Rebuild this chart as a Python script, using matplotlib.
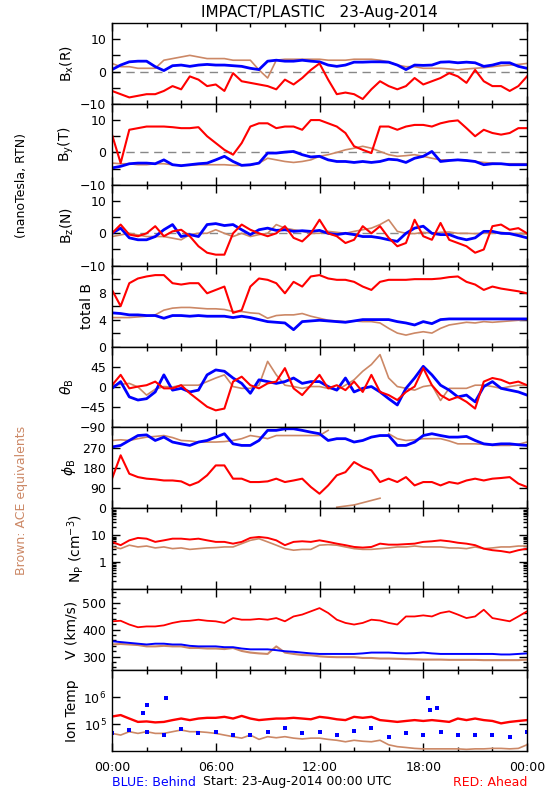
import matplotlib
matplotlib.use("Agg")
import matplotlib.pyplot as plt
import numpy as np
from matplotlib.ticker import MultipleLocator, NullLocator, FixedLocator

RED = "#ff0000"
BLUE = "#0000ff"
BROWN = "#cc8866"

# half-hour samples over the day (hours since 00:00 UTC)
hours = np.linspace(0, 24, 49)

bx_a = [-6.0, -7.0, -8.0, -7.5, -7.0, -7.0, -6.0, -4.5, -5.5, -1.5, -2.5, -4.5,
        -4.0, -6.0, -0.5, -3.0, -3.5, -4.0, -4.5, -5.5, -2.5, -4.0, -2.0, 0.5,
        2.5, -2.5, -7.0, -6.5, -7.0, -8.5, -5.5, -3.0, -4.5, -5.5, -4.5, -2.0,
        -4.0, -3.0, -2.0, -0.5, -1.5, -3.5, 0.5, -3.0, -4.5, -4.5, -6.0, -4.5,
        -1.5]
bx_b = [0.6, 2.0, 3.0, 3.2, 3.2, 1.5, 0.3, 1.8, 2.0, 1.6, 2.0, 2.2,
        2.0, 2.0, 1.8, 1.6, 1.0, 0.6, 3.2, 3.5, 3.2, 3.2, 3.5, 3.2,
        3.0, 2.0, 1.6, 2.0, 2.9, 2.9, 3.0, 3.0, 2.9, 2.0, 0.6, 2.0,
        1.9, 2.0, 2.9, 3.0, 2.7, 2.9, 2.7, 1.6, 2.0, 2.7, 2.7, 1.6,
        1.0]
bx_ace = [2.5, 1.5, 1.5, 1.0, 1.0, 1.0, 3.5, 4.0, 4.5, 5.0, 4.5, 4.0,
          4.0, 4.0, 3.5, 3.5, 3.5, 0.5, -2.0, 3.5, 3.8, 3.8, 3.8, 3.8,
          3.8, 3.5, 3.5, 3.5, 3.8, 3.8, 3.8, 3.5, 3.0, 2.0, 1.5, 1.5,
          1.0, 1.0, 1.0, 0.8, 0.5, 0.8, 1.0, 1.2, 1.5, 1.8, 2.0, 2.2,
          2.5]

by_a = [5.5, -3.3, 7.0, 7.5, 8.0, 8.0, 8.0, 7.8, 7.5, 7.5, 7.8, 5.0,
        2.9, 0.8, -0.7, 2.9, 8.0, 9.0, 9.0, 7.5, 8.0, 8.0, 7.0, 10.0,
        10.0, 9.0, 8.0, 6.0, 1.9, 0.8, -0.2, 8.0, 8.0, 7.0, 8.0, 8.5,
        8.5, 8.0, 9.0, 9.6, 9.9, 7.5, 5.0, 7.0, 6.0, 5.5, 6.0, 7.5,
        7.5]
by_b = [-4.8, -4.3, -3.5, -3.3, -3.3, -3.5, -2.3, -3.8, -4.1, -3.8, -3.5, -3.3,
        -2.3, -1.2, -2.8, -4.0, -3.8, -3.3, -0.2, -0.2, 0.1, 0.3, -0.7, -1.4,
        -1.2, -2.3, -2.8, -2.8, -3.1, -2.8, -3.1, -2.8, -2.1, -2.3, -3.1, -1.8,
        -1.2, 0.3, -2.8, -2.5, -2.3, -2.5, -2.8, -3.8, -3.5, -3.5, -3.8, -3.8,
        -3.8]
by_ace = [-3.3, -3.5, -3.5, -3.8, -3.8, -3.5, -3.5, -3.8, -4.0, -4.0, -3.8, -3.8,
          -3.8, -3.8, -4.0, -4.0, -4.0, -3.3, -1.8, -2.3, -2.8, -3.1, -2.8, -2.3,
          -1.2, -0.7, 0.0, 0.8, 1.3, 1.9, 1.3, 0.3, -0.7, -1.2, -1.0, -0.7,
          -1.2, -1.8, -2.3, -2.3, -2.3, -2.5, -2.8, -3.1, -3.3, -3.5, -3.5, -3.5,
          -3.5]

bz_a = [0.0, 2.7, -0.4, -0.9, 0.0, 2.2, -0.9, 0.6, 1.1, -0.9, -4.0, -6.0,
        -6.6, -6.6, 0.0, 2.7, 1.1, 0.0, -0.9, 0.0, 2.2, -1.4, -2.5, 0.0,
        4.2, 0.0, -0.9, -3.0, -2.0, 2.2, 0.0, 2.2, -1.4, -4.0, -3.0, 4.2,
        -0.9, -2.0, 3.2, -2.0, -3.0, -4.0, -6.0, -5.0, 2.2, 2.7, 1.1, 1.6,
        0.0]
bz_b = [0.0, 1.6, -1.4, -2.0, -2.0, -1.0, 1.1, 2.7, -1.0, -0.4, -1.0, 2.7,
        3.0, 2.4, 2.7, 1.1, -0.4, 1.1, 1.6, 0.9, 1.1, 0.6, 0.8, 0.6,
        0.9, 0.0, -0.4, 0.0, -0.4, -1.0, -1.0, -1.4, -2.0, -2.5, 0.0, 1.6,
        2.2, 0.0, -0.4, -0.4, -1.4, -2.0, -1.4, 0.6, 0.6, 0.0, -0.1, -0.7,
        -1.4]
bz_ace = [-1.0, -0.5, 0.0, -0.5, -1.0, -1.0, -1.0, -1.5, -2.0, -0.4, 0.0, 0.0,
          1.1, 0.0, -1.0, 0.0, -1.0, -0.4, 0.0, 2.7, 1.6, 1.1, 0.6, 0.0,
          0.0, 0.6, 0.3, 0.0, 0.6, 1.1, 1.6, 2.7, 4.2, 0.6, 0.0, -0.1,
          0.3, 0.0, 0.3, 0.4, 0.0, 0.0, -0.1, 0.0, 0.0, 0.3, 0.0, -0.1,
          -0.2]

bt_a = [8.4, 6.0, 9.4, 10.1, 10.4, 10.6, 10.6, 9.4, 9.2, 9.4, 9.4, 7.9,
        8.4, 8.9, 5.0, 5.4, 8.9, 10.1, 9.9, 9.4, 7.9, 9.6, 8.9, 10.4,
        10.6, 10.1, 9.9, 9.9, 9.6, 8.9, 8.4, 9.6, 9.9, 9.9, 9.9, 10.0,
        10.0, 10.0, 10.1, 10.3, 10.4, 9.6, 9.2, 8.4, 8.9, 8.6, 8.4, 8.2,
        7.9]
bt_b = [5.0, 4.9, 4.7, 4.7, 4.6, 4.6, 4.2, 4.6, 4.6, 4.5, 4.6, 4.5,
        4.5, 4.5, 4.3, 4.5, 4.3, 4.0, 3.7, 3.6, 3.5, 2.5, 3.7, 3.8,
        3.9, 3.8, 3.7, 3.6, 3.8, 4.0, 4.0, 4.0, 4.0, 3.7, 3.5, 3.2,
        3.7, 3.4, 4.0, 4.1, 4.1, 4.1, 4.1, 4.1, 4.1, 4.1, 4.1, 4.1,
        4.1]
bt_ace = [4.3, 4.3, 4.3, 4.4, 4.5, 4.7, 5.4, 5.7, 5.8, 5.8, 5.7, 5.6,
          5.6, 5.5, 5.2, 5.2, 5.0, 4.9, 4.2, 4.6, 4.7, 4.7, 4.9, 4.5,
          4.2, 3.9, 3.8, 3.7, 3.8, 3.7, 3.7, 3.5, 2.7, 2.0, 1.7, 2.0,
          2.2, 2.0, 2.7, 3.2, 3.4, 3.6, 3.5, 3.7, 3.6, 3.7, 3.8, 3.9,
          4.0]

theta_a = [4, 27, -3, 1, 4, 12, -3, -3, 4, -14, -29, -44,
           -52, -48, 12, 23, 4, -3, 8, 12, 42, -3, -18, 4,
           27, -3, 4, -7, 12, -11, 27, -11, -18, -29, -11, 1,
           42, 4, -18, -29, -22, -33, -48, 12, 20, 16, 8, 12,
           4]
theta_b = [-3, 12, -22, -29, -26, -11, 27, -7, -3, -11, -7, 27,
           38, 35, 20, 8, -14, 16, 12, 8, 12, 20, 8, 12,
           12, 1, -7, 20, -11, -3, 1, -11, -26, -40, -3, 20,
           46, 27, 4, -7, -22, -18, -33, 1, 12, -3, -7, -11,
           -18]
theta_ace = [4, 6, 8, 0, -18, -5, 1, 0, 4, 4, 4, 12,
             20, 27, 1, -3, -3, 4, 57, 27, 4, 1, -3, 1,
             1, -3, -7, 4, 16, 35, 50, 72, 20, 1, -3, -7,
             1, 4, -30, -3, -3, -3, 4, 4, 1, -3, 1, 4,
             4]

phi_a = [132, 236, 154, 139, 132, 129, 124, 124, 120, 102, 117, 147,
         191, 191, 132, 132, 117, 117, 120, 132, 117, 124, 132, 95,
         65, 102, 147, 161, 206, 184, 169, 117, 132, 117, 139, 102,
         117, 117, 102, 117, 110, 124, 132, 124, 132, 135, 139, 110,
         95]
phi_b = [273, 280, 302, 324, 327, 302, 317, 295, 287, 280, 295, 302,
         317, 332, 287, 280, 280, 302, 347, 347, 354, 354, 347, 339,
         332, 302, 310, 310, 295, 302, 317, 324, 324, 280, 280, 295,
         324, 332, 324, 317, 317, 320, 302, 287, 283, 287, 287, 283,
         280]
phi_ace = [302, 305, 302, 310, 317, 320, 324, 315, 302, 300, 295, 295,
           295, 297, 302, 310, 324, 318, 310, 324, 324, 324, 324, 324,
           324, 347, 5, 10, 15, 25, 35, 45, 332, 310, 302, 305,
           310, 310, 310, 300, 287, 287, 287, 285, 280, 280, 280, 285,
           295]

np_a = [5.7, 4.3, 6.5, 8.0, 7.5, 5.7, 6.5, 7.5, 7.5, 7.0, 7.5, 6.5,
        5.7, 5.7, 4.9, 5.7, 8.0, 8.7, 8.0, 6.5, 4.3, 5.7, 6.0, 5.7,
        6.5, 5.7, 4.9, 4.3, 3.7, 3.5, 3.7, 4.9, 4.5, 4.5, 4.7, 4.9,
        5.7, 6.0, 6.5, 6.0, 5.3, 4.9, 4.3, 3.2, 2.8, 2.6, 2.3, 2.8,
        3.2]
np_ace = [3.7, 3.2, 4.3, 3.7, 4.0, 3.4, 3.7, 3.2, 3.4, 3.0, 3.2, 3.4,
          3.5, 3.7, 3.7, 4.9, 6.5, 7.5, 5.7, 4.3, 3.2, 2.8, 3.0, 3.0,
          4.3, 4.5, 4.3, 3.7, 3.2, 3.0, 3.0, 3.2, 3.4, 3.7, 3.7, 4.0,
          3.7, 3.7, 3.7, 3.4, 3.4, 3.2, 3.7, 3.2, 3.4, 3.7, 3.7, 4.0,
          4.0]

v_a = [431, 433, 419, 409, 412, 412, 416, 425, 431, 433, 437, 433,
       431, 425, 443, 437, 437, 440, 437, 443, 431, 449, 456, 468,
       480, 462, 437, 425, 419, 425, 437, 434, 425, 419, 449, 449,
       453, 449, 462, 468, 456, 443, 449, 474, 443, 437, 431, 449,
       468]
v_b = [357, 354, 351, 348, 345, 348, 348, 345, 345, 340, 338, 338,
       338, 335, 335, 330, 327, 327, 327, 324, 320, 318, 315, 312,
       310, 310, 310, 310, 310, 312, 315, 315, 315, 313, 312, 313,
       315, 312, 310, 310, 310, 310, 310, 310, 310, 308, 308, 310,
       312]
v_ace = [345, 347, 345, 343, 338, 338, 340, 338, 338, 332, 332, 330,
         330, 328, 332, 321, 315, 312, 310, 338, 315, 310, 306, 305,
         301, 299, 298, 298, 298, 295, 295, 293, 293, 292, 291, 290,
         289, 289, 289, 288, 288, 288, 288, 287, 287, 287, 287, 287,
         289]

temp_a = [1.9e5, 2.15e5, 1.6e5, 1.2e5, 1.25e5, 1.15e5, 1.2e5, 1.4e5, 1.6e5, 1.4e5, 1.6e5, 1.7e5,
          1.7e5, 1.85e5, 1.6e5, 2.0e5, 1.6e5, 1.4e5, 1.5e5, 1.6e5, 1.6e5, 1.7e5, 1.6e5, 1.5e5,
          1.85e5, 1.7e5, 1.5e5, 1.4e5, 1.85e5, 1.7e5, 1.85e5, 1.4e5, 1.3e5, 1.2e5, 1.3e5, 1.4e5,
          1.3e5, 1.4e5, 1.3e5, 1.2e5, 1.6e5, 1.4e5, 1.6e5, 1.4e5, 1.3e5, 1.06e5, 1.2e5, 1.3e5,
          1.4e5]
temp_ace = [4.5e4, 3.9e4, 5.2e4, 4.5e4, 5.2e4, 4.5e4, 4.5e4, 5.2e4, 6.0e4, 5.2e4, 5.2e4, 4.9e4,
            4.5e4, 3.9e4, 3.4e4, 3.0e4, 3.9e4, 2.7e4, 3.4e4, 3.1e4, 3.4e4, 3.0e4, 2.8e4, 3.0e4,
            3.0e4, 2.7e4, 2.5e4, 2.2e4, 2.5e4, 2.3e4, 2.2e4, 2.5e4, 1.7e4, 1.45e4, 1.35e4, 1.25e4,
            1.2e4, 1.2e4, 1.2e4, 1.2e4, 1.2e4, 1.15e4, 1.2e4, 1.2e4, 1.25e4, 1.25e4, 1.2e4, 1.25e4,
            1.7e4]
# Behind ion temperature is sparse: hourly squares plus a few spikes
temp_b_hours = list(range(25))
temp_b = [4.5e4, 6.0e4, 5.0e4, 4.0e4, 6.5e4, 4.5e4, 5.0e4, 4.0e4, 3.8e4, 5.0e4, 7.0e4, 4.5e4,
          5.0e4, 3.8e4, 5.5e4, 7.0e4, 3.4e4, 4.5e4, 4.0e4, 5.0e4, 4.0e4, 3.8e4, 4.0e4, 3.4e4,
          5.0e4]
temp_b_spike_hours = [1.8, 2.0, 3.1, 18.3, 18.4, 18.8]
temp_b_spikes = [2.5e5, 5.0e5, 9.5e5, 9.0e5, 3.3e5, 3.8e5]

ylabels = [r"B$_{\rm x}$(R)", r"B$_{\rm y}$(T)", r"B$_{\rm z}$(N)", "total B",
           r"$\theta_{\rm B}$", r"$\phi_{\rm B}$", r"N$_{\rm P}$ (cm$^{-3}$)",
           "V (km/s)", "Ion Temp"]
xtick_labels = ["00:00", "06:00", "12:00", "18:00", "00:00"]


def break_wraps(y):
    # split the line where the angle wraps through 0/360
    y = np.asarray(y, dtype=float)
    xs, ys = [hours[0]], [y[0]]
    for i in range(1, len(y)):
        if abs(y[i] - y[i - 1]) > 180:
            xs.append(np.nan)
            ys.append(np.nan)
        xs.append(hours[i])
        ys.append(y[i])
    return np.array(xs), np.array(ys)


plt.rcParams["font.family"] = "DejaVu Sans"
fig = plt.figure(figsize=(5.5, 8), dpi=100)

left, width = 112 / 550, 415 / 550
top_px, bot_px = 23, 751
ph = (bot_px - top_px) / 9
axes = []
for i in range(9):
    y0 = 1 - (top_px + (i + 1) * ph) / 800
    axes.append(fig.add_axes([left, y0, width, ph / 800]))

series = [
    (bx_ace, bx_b, bx_a), (by_ace, by_b, by_a), (bz_ace, bz_b, bz_a),
    (bt_ace, bt_b, bt_a), (theta_ace, theta_b, theta_a),
]
for ax, (ace, beh, ahd) in zip(axes[:5], series):
    ax.plot(hours, ace, color=BROWN, lw=1.2)
    ax.plot(hours, beh, color=BLUE, lw=2.0)
    ax.plot(hours, ahd, color=RED, lw=1.5)

ax = axes[5]
px, py = break_wraps(phi_ace)
ax.plot(px, py, color=BROWN, lw=1.2)
ax.plot(hours, phi_b, color=BLUE, lw=2.0)
ax.plot(hours, phi_a, color=RED, lw=1.5)

ax = axes[6]
ax.plot(hours, np_ace, color=BROWN, lw=1.2)
ax.plot(hours, np_a, color=RED, lw=1.4)

ax = axes[7]
ax.plot(hours, v_ace, color=BROWN, lw=1.5)
ax.plot(hours, v_b, color=BLUE, lw=1.4)
ax.plot(hours, v_a, color=RED, lw=1.3)

ax = axes[8]
ax.plot(hours, temp_ace, color=BROWN, lw=1.2)
ax.plot(temp_b_hours, temp_b, "s", color=BLUE, ms=2.2, mew=0)
ax.plot(temp_b_spike_hours, temp_b_spikes, "s", color=BLUE, ms=2.2, mew=0)
ax.plot(hours, temp_a, color=RED, lw=1.7)

for ax in axes[:3]:
    ax.axhline(0, color="#888888", lw=1.0, ls=(0, (6, 4)), zorder=0)
    ax.set_ylim(-10, 15)
    ax.yaxis.set_major_locator(FixedLocator([-10, -5, 0, 5, 10]))
    ax.set_yticklabels(["\u221210", "", "0", "", "10"])

axes[3].set_ylim(0, 12)
axes[3].yaxis.set_major_locator(FixedLocator([0, 2, 4, 6, 8, 10]))
axes[3].set_yticklabels(["0", "", "4", "", "8", ""])

axes[4].set_ylim(-90, 90)
axes[4].yaxis.set_major_locator(FixedLocator([-90, -45, 0, 45]))
axes[4].set_yticklabels(["\u221290", "\u221245", "0", "45"])

axes[5].set_ylim(0, 360)
axes[5].yaxis.set_major_locator(FixedLocator([0, 90, 180, 270]))
axes[5].set_yticklabels(["0", "90", "180", "270"])

axes[6].set_yscale("log")
axes[6].set_ylim(0.1, 100)
axes[6].yaxis.set_major_locator(FixedLocator([1, 10]))
axes[6].set_yticklabels(["1", "10"])

axes[7].set_ylim(250, 550)
axes[7].yaxis.set_major_locator(FixedLocator([300, 400, 500]))
axes[7].yaxis.set_minor_locator(MultipleLocator(20))
axes[7].set_yticklabels(["300", "400", "500"])

axes[8].set_yscale("log")
axes[8].set_ylim(1e4, 1e7)
axes[8].yaxis.set_major_locator(FixedLocator([1e5, 1e6]))
axes[8].yaxis.set_minor_locator(NullLocator())
axes[8].set_yticklabels([r"10$^5$", r"10$^6$"])

for i, ax in enumerate(axes):
    ax.set_xlim(0, 24)
    ax.xaxis.set_major_locator(FixedLocator([0, 6, 12, 18, 24]))
    ax.xaxis.set_minor_locator(MultipleLocator(2))
    ax.tick_params(which="both", direction="in", top=True, right=True,
                   labelsize=9, width=1.0, pad=4)
    ax.tick_params(which="major", length=6)
    ax.tick_params(which="minor", length=3)
    ax.set_ylabel(ylabels[i], fontsize=10, labelpad=3)
    for s in ax.spines.values():
        s.set_linewidth(1.0)
    if i < 8:
        ax.set_xticklabels([])
    else:
        ax.set_xticklabels(xtick_labels)
        ax.tick_params(axis="x", pad=7)

fig.text(319 / 550, 1 - 12 / 800, "IMPACT/PLASTIC   23-Aug-2014",
         ha="center", va="center", fontsize=11)
fig.text(22 / 550, 1 - 186 / 800, "(nanoTesla, RTN)", rotation=90,
         ha="center", va="center", fontsize=9)
fig.text(22 / 550, 1 - 500 / 800, "Brown: ACE equivalents", rotation=90,
         ha="center", va="center", fontsize=9, color=BROWN)
fig.text(112 / 550, 1 - 782 / 800, "BLUE: Behind", color=BLUE,
         ha="left", va="center", fontsize=9)
fig.text(203 / 550, 1 - 782 / 800, "Start: 23-Aug-2014 00:00 UTC",
         ha="left", va="center", fontsize=9)
fig.text(527 / 550, 1 - 782 / 800, "RED: Ahead", color=RED,
         ha="right", va="center", fontsize=9)

fig.savefig("out.png", dpi=100)
